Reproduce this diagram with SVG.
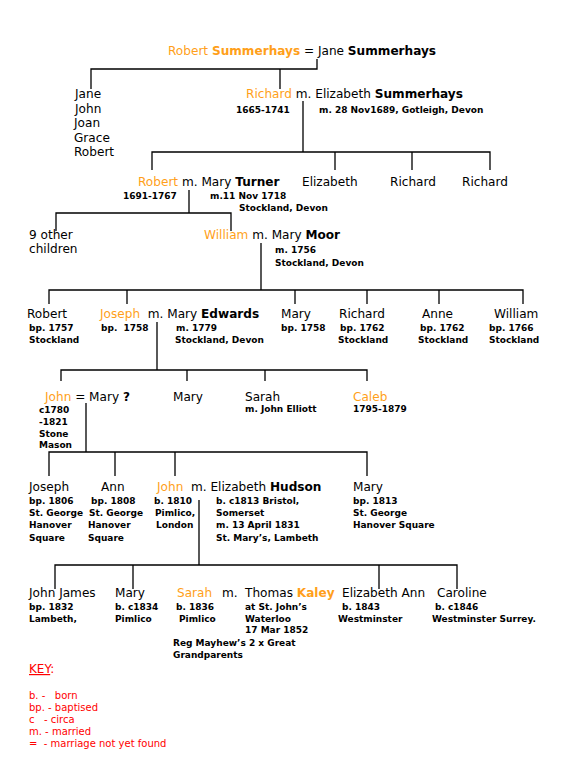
<svg xmlns="http://www.w3.org/2000/svg" width="564" height="768" viewBox="0 0 564 768" xml:space="preserve">
<style>
text{font-family:"DejaVu Sans","Verdana",sans-serif;fill:#000;white-space:pre}
.n{font-size:12.1px}
.s{font-size:9px;font-weight:bold}
.o{fill:#ff9f1a}
.b{font-weight:bold}
.k{font-size:10px;fill:#f00}
.ln{stroke:#000;stroke-width:1.3;fill:none}
</style>
<rect width="564" height="768" fill="#fff"/>
<g id="connectors" class="ln">
<path d="M317,59V69H91V89M280,69V89"/>
<path d="M303,101V152M152,170V152H490V170M335,152V170M412,152V170"/>
<path d="M189,190V213M56,231V213H231V231"/>
<path d="M261,243V290M49,304V290H523V304M127,290V304M295,290V304M367,290V304M439,290V304"/>
<path d="M157,322V370M61,381V370H367V381M187,370V381M265,370V381"/>
<path d="M86,403V452M49,476V452H367V476M115,452V476M175,452V476"/>
<path d="M199,500V565M55,589V565H457V589M133,565V589M379,565V589"/>
</g>
<g id="n-robert-jane"><text class="n" x="168" y="55"><tspan class="o">Robert </tspan><tspan class="o b">Summerhays</tspan> = Jane <tspan class="b">Summerhays</tspan></text></g>
<g id="n-siblings1"><text class="n" x="75" y="98">Jane</text><text class="n" x="75" y="113">John</text><text class="n" x="74" y="127">Joan</text><text class="n" x="74" y="142">Grace</text><text class="n" x="74" y="156">Robert</text></g>
<g id="n-richard"><text class="n" x="246" y="98"><tspan class="o">Richard</tspan> m. Elizabeth <tspan class="b">Summerhays</tspan></text><text class="s" x="236" y="113">1665-1741</text><text class="s" x="319" y="113">m. 28 Nov1689, Gotleigh, Devon</text></g>
<g id="n-robert2"><text class="n" x="138" y="186"><tspan class="o">Robert</tspan> m. Mary <tspan class="b">Turner</tspan></text><text class="s" x="123" y="199">1691-1767</text><text class="s" x="210" y="199">m.11 Nov 1718</text><text class="s" x="239" y="211">Stockland, Devon</text></g>
<g id="n-elizabeth"><text class="n" x="302" y="186">Elizabeth</text></g>
<g id="n-richard2"><text class="n" x="390" y="186">Richard</text></g>
<g id="n-richard3"><text class="n" x="462" y="186">Richard</text></g>
<g id="n-other"><text class="n" x="29" y="239">9 other</text><text class="n" x="29" y="253">children</text></g>
<g id="n-william"><text class="n" x="204" y="239"><tspan class="o">William</tspan> m. Mary <tspan class="b">Moor</tspan></text><text class="s" x="275" y="253">m. 1756</text><text class="s" x="275" y="266">Stockland, Devon</text></g>
<g id="n-robert3"><text class="n" x="27" y="318">Robert</text><text class="s" x="29" y="331">bp. 1757</text><text class="s" x="29" y="343">Stockland</text></g>
<g id="n-joseph"><text class="n" x="100" y="318"><tspan class="o">Joseph</tspan>  m. Mary <tspan class="b">Edwards</tspan></text><text class="s" x="101" y="331">bp.  1758</text><text class="s" x="176" y="331">m. 1779</text><text class="s" x="175" y="343">Stockland, Devon</text></g>
<g id="n-mary1"><text class="n" x="281" y="318">Mary</text><text class="s" x="281" y="331">bp. 1758</text></g>
<g id="n-richard4"><text class="n" x="339" y="318">Richard</text><text class="s" x="340" y="331">bp. 1762</text><text class="s" x="338" y="343">Stockland</text></g>
<g id="n-anne"><text class="n" x="422" y="318">Anne</text><text class="s" x="420" y="331">bp. 1762</text><text class="s" x="418" y="343">Stockland</text></g>
<g id="n-william2"><text class="n" x="494" y="318">William</text><text class="s" x="489" y="331">bp. 1766</text><text class="s" x="489" y="343">Stockland</text></g>
<g id="n-john"><text class="n" x="45" y="401"><tspan class="o">John</tspan> = Mary <tspan class="b">?</tspan></text><text class="s" x="39" y="413">c1780</text><text class="s" x="39" y="425">-1821</text><text class="s" x="39" y="437">Stone</text><text class="s" x="39" y="448">Mason</text></g>
<g id="n-mary2"><text class="n" x="173" y="401">Mary</text></g>
<g id="n-sarah"><text class="n" x="245" y="401">Sarah</text><text class="s" x="245" y="412">m. John Elliott</text></g>
<g id="n-caleb"><text class="n o" x="353" y="401">Caleb</text><text class="s" x="353" y="412">1795-1879</text></g>
<g id="n-joseph2"><text class="n" x="29" y="491">Joseph</text><text class="s" x="29" y="504">bp. 1806</text><text class="s" x="29" y="516">St. George</text><text class="s" x="29" y="528">Hanover</text><text class="s" x="29" y="541">Square</text></g>
<g id="n-ann"><text class="n" x="101" y="491">Ann</text><text class="s" x="91" y="504">bp. 1808</text><text class="s" x="89" y="516">St. George</text><text class="s" x="88" y="528">Hanover</text><text class="s" x="88" y="541">Square</text></g>
<g id="n-john2"><text class="n" x="157" y="491"><tspan class="o">John</tspan>  m. Elizabeth <tspan class="b">Hudson</tspan></text><text class="s" x="154" y="504">b. 1810</text><text class="s" x="155" y="516">Pimlico,</text><text class="s" x="156" y="528">London</text><text class="s" x="216" y="504">b. c1813 Bristol,</text><text class="s" x="216" y="516">Somerset</text><text class="s" x="216" y="528">m. 13 April 1831</text><text class="s" x="216" y="541">St. Mary’s, Lambeth</text></g>
<g id="n-mary3"><text class="n" x="353" y="491">Mary</text><text class="s" x="353" y="504">bp. 1813</text><text class="s" x="353" y="516">St. George</text><text class="s" x="353" y="528">Hanover Square</text></g>
<g id="n-johnjames"><text class="n" x="29" y="597">John James</text><text class="s" x="29" y="610">bp. 1832</text><text class="s" x="29" y="622">Lambeth,</text></g>
<g id="n-mary4"><text class="n" x="115" y="597">Mary</text><text class="s" x="115" y="610">b. c1834</text><text class="s" x="115" y="622">Pimlico</text></g>
<g id="n-sarah2"><text class="n" x="177" y="597"><tspan class="o">Sarah</tspan></text><text class="n" x="222" y="597">m.</text><text class="n" x="245" y="597">Thomas <tspan class="o b">Kaley</tspan></text><text class="s" x="176" y="610">b. 1836</text><text class="s" x="179" y="622">Pimlico</text><text class="s" x="245" y="610">at St. John’s</text><text class="s" x="245" y="622">Waterloo</text><text class="s" x="245" y="633">17 Mar 1852</text><text class="s" x="173" y="646">Reg Mayhew’s 2 x Great</text><text class="s" x="173" y="658">Grandparents</text></g>
<g id="n-elizabethann"><text class="n" x="342" y="597">Elizabeth Ann</text><text class="s" x="342" y="610">b. 1843</text><text class="s" x="338" y="622">Westminster</text></g>
<g id="n-caroline"><text class="n" x="437" y="597">Caroline</text><text class="s" x="435" y="610">b. c1846</text><text class="s" x="432" y="622">Westminster Surrey.</text></g>
<g id="key"><text class="k" x="29" y="673" style="font-size:12px"><tspan text-decoration="underline">KEY</tspan>:</text><text class="k" x="29" y="699">b. -   born</text><text class="k" x="29" y="711">bp. - baptised</text><text class="k" x="29" y="723">c   - circa</text><text class="k" x="29" y="735">m. - married</text><text class="k" x="29" y="747">=  - marriage not yet found</text></g>
</svg>
